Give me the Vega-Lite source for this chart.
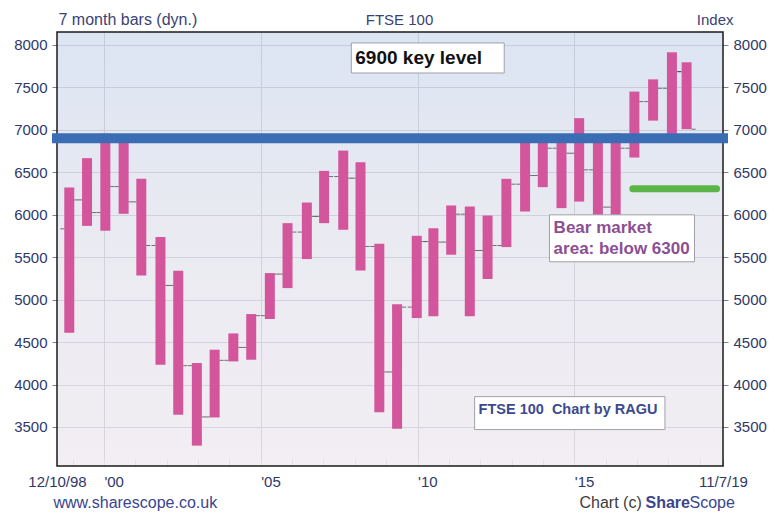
{
  "$schema": "https://vega.github.io/schema/vega-lite/v6.json",
  "width": 676,
  "height": 434,
  "autosize": "none",
  "padding": {"left": 52, "top": 32, "right": 43, "bottom": 52},
  "background": "#ffffff",
  "config": {"font": "Liberation Sans", "view": {"stroke": null}},
  "resolve": {"axis": {"x": "independent", "y": "independent"}},
  "datasets": {
    "bars": [
      {"date": "1998-11-24", "open": 5834, "high": 6320, "low": 4610, "close": 6175},
      {"date": "1999-06-19", "open": 6175, "high": 6667, "low": 5869, "close": 6026},
      {"date": "2000-01-18", "open": 6026, "high": 6953, "low": 5811, "close": 6332},
      {"date": "2000-08-18", "open": 6332, "high": 6880, "low": 6011, "close": 6152},
      {"date": "2001-03-12", "open": 6152, "high": 6423, "low": 5285, "close": 5638},
      {"date": "2001-10-21", "open": 5638, "high": 5737, "low": 4233, "close": 5167},
      {"date": "2002-05-16", "open": 5167, "high": 5340, "low": 3645, "close": 4222},
      {"date": "2002-12-19", "open": 4222, "high": 4253, "low": 3280, "close": 3618},
      {"date": "2003-07-14", "open": 3618, "high": 4410, "low": 3612, "close": 4285},
      {"date": "2004-02-17", "open": 4285, "high": 4602, "low": 4272, "close": 4437},
      {"date": "2004-09-12", "open": 4437, "high": 4830, "low": 4292, "close": 4811},
      {"date": "2005-04-17", "open": 4811, "high": 5313, "low": 4772, "close": 5301},
      {"date": "2005-11-09", "open": 5301, "high": 5901, "low": 5136, "close": 5796},
      {"date": "2006-06-22", "open": 5796, "high": 6144, "low": 5478, "close": 5980},
      {"date": "2007-01-09", "open": 5980, "high": 6517, "low": 5901, "close": 6450},
      {"date": "2007-08-20", "open": 6450, "high": 6756, "low": 5823, "close": 6431},
      {"date": "2008-03-08", "open": 6431, "high": 6619, "low": 5344, "close": 5626},
      {"date": "2008-10-13", "open": 5626, "high": 5657, "low": 3673, "close": 4148},
      {"date": "2009-05-08", "open": 4148, "high": 4947, "low": 3480, "close": 4912},
      {"date": "2009-12-23", "open": 4912, "high": 5752, "low": 4783, "close": 5684},
      {"date": "2010-07-05", "open": 5684, "high": 5842, "low": 4803, "close": 5678},
      {"date": "2011-01-28", "open": 5678, "high": 6109, "low": 5529, "close": 6007},
      {"date": "2011-09-02", "open": 6007, "high": 6097, "low": 4803, "close": 5579},
      {"date": "2012-03-27", "open": 5579, "high": 5991, "low": 5243, "close": 5638},
      {"date": "2012-11-01", "open": 5638, "high": 6423, "low": 5619, "close": 6360},
      {"date": "2013-06-07", "open": 6360, "high": 6890, "low": 6038, "close": 6462},
      {"date": "2013-12-30", "open": 6462, "high": 6875, "low": 6325, "close": 6784},
      {"date": "2014-08-05", "open": 6784, "high": 6905, "low": 6078, "close": 6725},
      {"date": "2015-02-27", "open": 6725, "high": 7138, "low": 6155, "close": 6529},
      {"date": "2015-10-03", "open": 6529, "high": 6880, "low": 5500, "close": 6090},
      {"date": "2016-04-27", "open": 6090, "high": 6961, "low": 5800, "close": 6784},
      {"date": "2016-12-01", "open": 6784, "high": 7451, "low": 6674, "close": 7333},
      {"date": "2017-07-07", "open": 7333, "high": 7595, "low": 7109, "close": 7490},
      {"date": "2018-02-11", "open": 7490, "high": 7914, "low": 6929, "close": 7686},
      {"date": "2018-08-01", "open": 7686, "high": 7796, "low": 7008, "close": 7008}
    ],
    "bearline": [
      {"start": "2016-11-13", "end": "2019-07-16", "level": 6305}
    ]
  },
  "layer": [
    {
      "data": {"values": [{}]},
      "mark": {
        "type": "rect",
        "fill": {"gradient": "linear", "x1": 0, "y1": 0, "x2": 0, "y2": 1,
          "stops": [{"offset": 0, "color": "#d3def0"}, {"offset": 0.45, "color": "#e4e5ee"}, {"offset": 1, "color": "#efeaf0"}]},
        "fillOpacity": 0.8,
        "stroke": "#1b1b1b",
        "strokeWidth": 1.5
      },
      "encoding": {
        "x": {
          "datum": {"year": 1998, "month": 7, "date": 4},
          "type": "temporal",
          "scale": {"domain": [{"year": 1998, "month": 7, "date": 4}, {"year": 2019, "month": 9, "date": 29}], "nice": false},
          "axis": {
            "orient": "bottom",
            "values": [
              {"year": 1998, "month": 7, "date": 4},
              {"year": 1999, "month": 1, "date": 1}, {"year": 2000, "month": 1, "date": 1}, {"year": 2001, "month": 1, "date": 1},
              {"year": 2002, "month": 1, "date": 1}, {"year": 2003, "month": 1, "date": 1}, {"year": 2004, "month": 1, "date": 1},
              {"year": 2005, "month": 1, "date": 1}, {"year": 2006, "month": 1, "date": 1}, {"year": 2007, "month": 1, "date": 1},
              {"year": 2008, "month": 1, "date": 1}, {"year": 2009, "month": 1, "date": 1}, {"year": 2010, "month": 1, "date": 1},
              {"year": 2011, "month": 1, "date": 1}, {"year": 2012, "month": 1, "date": 1}, {"year": 2013, "month": 1, "date": 1},
              {"year": 2014, "month": 1, "date": 1}, {"year": 2015, "month": 1, "date": 1}, {"year": 2016, "month": 1, "date": 1},
              {"year": 2017, "month": 1, "date": 1}, {"year": 2018, "month": 1, "date": 1}, {"year": 2019, "month": 1, "date": 1},
              {"year": 2019, "month": 9, "date": 29}
            ],
            "labelExpr": "year(datum.value) == 1998 ? '12/10/98' : (month(datum.value) == 8 ? '11/7/19' : (year(datum.value) % 5 == 0 ? \"'\" + timeFormat(datum.value, '%y') : ''))",
            "labelAlign": {"condition": {"test": "year(datum.value) == 1998 || month(datum.value) == 8", "value": "center"}, "value": "left"},
            "labelFlush": false,
            "labelOverlap": false,
            "labelBound": false,
            "labelFontSize": 15,
            "labelColor": "#2f376a",
            "labelBaseline": "top",
            "labelPadding": 15,
            "tickSize": -7,
            "tickColor": "#b4b4c2",
            "tickWidth": 1,
            "grid": true,
            "gridColor": "#80808f",
            "gridOpacity": {"condition": {"test": "year(datum.value) % 5 == 0 && month(datum.value) == 0", "value": 1}, "value": 0},
            "domain": false,
            "title": "www.sharescope.co.uk",
            "titleX": 1,
            "titleY": 41,
            "titleAlign": "left",
            "titleBaseline": "alphabetic",
            "titleFontSize": 16,
            "titleFontWeight": "normal",
            "titleColor": "#3a4590"
          }
        },
        "x2": {"datum": {"year": 2019, "month": 9, "date": 29}},
        "y": {
          "datum": 3040,
          "type": "quantitative",
          "scale": {"domain": [3040, 8153], "nice": false, "zero": false},
          "axis": {
            "orient": "left",
            "values": [3500, 4000, 4500, 5000, 5500, 6000, 6500, 7000, 7500, 8000],
            "format": "d",
            "labelFontSize": 15,
            "labelColor": "#2f376a",
            "labelPadding": 5,
            "ticks": false,
            "domain": false,
            "grid": true,
            "gridColor": "#80808f",
            "title": "7 month bars (dyn.)",
            "titleAngle": 0,
            "titleAlign": "left",
            "titleBaseline": "alphabetic",
            "titleX": 6,
            "titleY": -8,
            "titleFontSize": 16,
            "titleFontWeight": "normal",
            "titleColor": "#3a4275"
          }
        },
        "y2": {"datum": 8153}
      }
    },
    {
      "data": {"name": "bars"},
      "mark": {"type": "bar", "size": 10, "color": "#d3559c"},
      "encoding": {
        "x": {"field": "date", "type": "temporal", "scale": {"domain": [{"year": 1998, "month": 7, "date": 4}, {"year": 2019, "month": 9, "date": 29}], "nice": false}, "axis": null},
        "y": {
          "field": "low",
          "type": "quantitative",
          "scale": {"domain": [3040, 8153], "nice": false, "zero": false},
          "axis": {
            "orient": "right",
            "values": [3500, 4000, 4500, 5000, 5500, 6000, 6500, 7000, 7500, 8000],
            "format": "d",
            "labelFontSize": 15,
            "labelColor": "#2f376a",
            "labelPadding": 5,
            "ticks": false,
            "domain": false,
            "grid": false,
            "title": "Index",
            "titleAngle": 0,
            "titleAlign": "right",
            "titleBaseline": "alphabetic",
            "titleX": 5,
            "titleY": -8,
            "titleFontSize": 15,
            "titleFontWeight": "normal",
            "titleColor": "#3a4275"
          }
        },
        "y2": {"field": "high"}
      }
    },
    {
      "data": {"name": "bars"},
      "mark": {"type": "tick", "orient": "horizontal", "size": 4, "thickness": 1, "xOffset": -7, "color": "#3a3a3a"},
      "encoding": {
        "x": {
          "field": "date", "type": "temporal",
          "scale": {"domain": [{"year": 1998, "month": 7, "date": 4}, {"year": 2019, "month": 9, "date": 29}], "nice": false},
          "axis": {"orient": "top", "labels": false, "ticks": false, "domain": false, "grid": false,
            "title": "FTSE 100", "titleX": 347, "titleY": -8, "titleAlign": "center", "titleBaseline": "alphabetic",
            "titleFontSize": 15, "titleFontWeight": "normal", "titleColor": "#3a4275"}
        },
        "y": {"field": "open", "type": "quantitative", "scale": {"domain": [3040, 8153], "nice": false, "zero": false}, "axis": null}
      }
    },
    {
      "data": {"name": "bars"},
      "mark": {"type": "tick", "orient": "horizontal", "size": 4, "thickness": 1, "xOffset": 7, "color": "#3a3a3a"},
      "encoding": {
        "x": {
          "field": "date", "type": "temporal",
          "scale": {"domain": [{"year": 1998, "month": 7, "date": 4}, {"year": 2019, "month": 9, "date": 29}], "nice": false},
          "axis": {"orient": "top", "labels": false, "ticks": false, "domain": false, "grid": false,
            "title": "Chart (c)", "titleX": 527, "titleY": 475, "titleAlign": "left", "titleBaseline": "alphabetic",
            "titleFontSize": 16, "titleFontWeight": "normal", "titleColor": "#3c3c3c"}
        },
        "y": {"field": "close", "type": "quantitative", "scale": {"domain": [3040, 8153], "nice": false, "zero": false}, "axis": null}
      }
    },
    {
      "data": {"values": [{}]},
      "mark": {"type": "rule", "color": "#3b6db5", "strokeWidth": 10},
      "encoding": {
        "y": {
          "datum": 6900, "type": "quantitative",
          "scale": {"domain": [3040, 8153], "nice": false, "zero": false},
          "axis": {"orient": "left", "labels": false, "ticks": false, "domain": false, "grid": false,
            "title": "Share", "titleAngle": 0, "titleX": 593, "titleY": 475, "titleAlign": "left", "titleBaseline": "alphabetic",
            "titleFontSize": 16, "titleFontWeight": "bold", "titleColor": "#3a4590"}
        }
      }
    },
    {
      "data": {"name": "bearline"},
      "mark": {"type": "rule", "color": "#5cb548", "strokeWidth": 7, "strokeCap": "round"},
      "encoding": {
        "x": {
          "field": "start", "type": "temporal",
          "scale": {"domain": [{"year": 1998, "month": 7, "date": 4}, {"year": 2019, "month": 9, "date": 29}], "nice": false},
          "axis": {"orient": "top", "labels": false, "ticks": false, "domain": false, "grid": false,
            "title": "Scope", "titleX": 637, "titleY": 475, "titleAlign": "left", "titleBaseline": "alphabetic",
            "titleFontSize": 16, "titleFontWeight": "normal", "titleColor": "#3a4590"}
        },
        "x2": {"field": "end"},
        "y": {"field": "level", "type": "quantitative", "scale": {"domain": [3040, 8153], "nice": false, "zero": false}, "axis": null}
      }
    },
    {
      "data": {"values": [{}]},
      "mark": {"type": "rect", "fill": "#ffffff", "stroke": "#a0a0a8", "strokeWidth": 1},
      "encoding": {
        "x": {"datum": {"year": 2007, "month": 11, "date": 22}, "type": "temporal", "scale": {"domain": [{"year": 1998, "month": 7, "date": 4}, {"year": 2019, "month": 9, "date": 29}], "nice": false}, "axis": null},
        "x2": {"datum": {"year": 2012, "month": 10, "date": 7}},
        "y": {"datum": 7670, "type": "quantitative", "scale": {"domain": [3040, 8153], "nice": false, "zero": false}, "axis": null},
        "y2": {"datum": 8024}
      }
    },
    {
      "data": {"values": [{}]},
      "mark": {"type": "rect", "fill": "#ffffff", "stroke": "#a0a0a8", "strokeWidth": 1},
      "encoding": {
        "x": {"datum": {"year": 2014, "month": 3, "date": 18}, "type": "temporal", "scale": {"domain": [{"year": 1998, "month": 7, "date": 4}, {"year": 2019, "month": 9, "date": 29}], "nice": false}, "axis": null},
        "x2": {"datum": {"year": 2018, "month": 11, "date": 1}},
        "y": {"datum": 5446, "type": "quantitative", "scale": {"domain": [3040, 8153], "nice": false, "zero": false}, "axis": null},
        "y2": {"datum": 5999}
      }
    },
    {
      "data": {"values": [{}]},
      "mark": {"type": "rect", "fill": "#ffffff", "stroke": "#a0a0a8", "strokeWidth": 1},
      "encoding": {
        "x": {"datum": {"year": 2011, "month": 10, "date": 28}, "type": "temporal", "scale": {"domain": [{"year": 1998, "month": 7, "date": 4}, {"year": 2019, "month": 9, "date": 29}], "nice": false}, "axis": null},
        "x2": {"datum": {"year": 2017, "month": 11, "date": 22}},
        "y": {"datum": 3469, "type": "quantitative", "scale": {"domain": [3040, 8153], "nice": false, "zero": false}, "axis": null},
        "y2": {"datum": 3857}
      }
    },
    {
      "data": {"values": [{}]},
      "mark": {"type": "text", "text": "6900 key level", "align": "left", "baseline": "middle", "fontSize": 19, "fontWeight": "bold", "color": "#111111"},
      "encoding": {
        "x": {"datum": {"year": 2008, "month": 1, "date": 7}, "type": "temporal", "scale": {"domain": [{"year": 1998, "month": 7, "date": 4}, {"year": 2019, "month": 9, "date": 29}], "nice": false}, "axis": null},
        "y": {"datum": 7847, "type": "quantitative", "scale": {"domain": [3040, 8153], "nice": false, "zero": false}, "axis": null}
      }
    },
    {
      "data": {"values": [{}]},
      "mark": {"type": "text", "text": "Bear market", "align": "left", "baseline": "middle", "fontSize": 17, "fontWeight": "bold", "color": "#8b4f93"},
      "encoding": {
        "x": {"datum": {"year": 2014, "month": 5, "date": 5}, "type": "temporal", "scale": {"domain": [{"year": 1998, "month": 7, "date": 4}, {"year": 2019, "month": 9, "date": 29}], "nice": false}, "axis": null},
        "y": {"datum": 5846, "type": "quantitative", "scale": {"domain": [3040, 8153], "nice": false, "zero": false}, "axis": null}
      }
    },
    {
      "data": {"values": [{}]},
      "mark": {"type": "text", "text": "area: below 6300", "align": "left", "baseline": "middle", "fontSize": 17, "fontWeight": "bold", "color": "#8b4f93"},
      "encoding": {
        "x": {"datum": {"year": 2014, "month": 5, "date": 5}, "type": "temporal", "scale": {"domain": [{"year": 1998, "month": 7, "date": 4}, {"year": 2019, "month": 9, "date": 29}], "nice": false}, "axis": null},
        "y": {"datum": 5593, "type": "quantitative", "scale": {"domain": [3040, 8153], "nice": false, "zero": false}, "axis": null}
      }
    },
    {
      "data": {"values": [{}]},
      "mark": {"type": "text", "text": "FTSE 100\u00a0 Chart by RAGU", "align": "left", "baseline": "middle", "fontSize": 14.5, "fontWeight": "bold", "color": "#3b4a8f"},
      "encoding": {
        "x": {"datum": {"year": 2011, "month": 12, "date": 13}, "type": "temporal", "scale": {"domain": [{"year": 1998, "month": 7, "date": 4}, {"year": 2019, "month": 9, "date": 29}], "nice": false}, "axis": null},
        "y": {"datum": 3704, "type": "quantitative", "scale": {"domain": [3040, 8153], "nice": false, "zero": false}, "axis": null}
      }
    }
  ]
}
